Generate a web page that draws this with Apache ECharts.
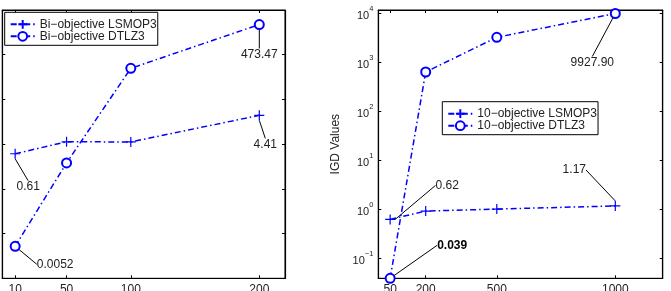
<!DOCTYPE html>
<html>
<head>
<meta charset="utf-8">
<title>IGD values vs. number of decision variables</title>
<script src="https://cdn.jsdelivr.net/npm/echarts@6/dist/echarts.min.js"></script>
<style>
    html, body { margin: 0; padding: 0; background: #fff; }
    #chart { width: 671px; height: 291px; }
</style>
</head>
<body>
<div id="chart"></div>
<script>
// left panel: bi-objective problems
var biSizes = [10, 50, 100, 200];
var biLsmop3 = [0.61, 1.13, 1.12, 4.41];
var biDtlz3 = [0.0052, 0.38, 49.6, 473.47];
var biLsmop3Notes = ['0.61', '', '', '4.41'];
var biDtlz3Notes = ['0.0052', '', '', '473.47'];

// right panel: 10-objective problems
var manySizes = [50, 200, 500, 1000];
var manyLsmop3 = [0.62, 0.92, 1.01, 1.17];
var manyDtlz3 = [0.039, 635, 3240, 9927.90];
var manyLsmop3Notes = ['0.62', '', '', '1.17'];
var manyDtlz3Notes = ['0.039', '', '', '9927.90'];

var seriesNames = [
    'Bi\u2212objective LSMOP3',
    'Bi\u2212objective DTLZ3',
    '10\u2212objective LSMOP3',
    '10\u2212objective DTLZ3'
];

var FONT = 'Liberation Sans, Arial, Helvetica, sans-serif';
var TEXT = '#222';
var BLUE = '#0000ff';
var PLUS = 'path://M5,0L5,10M0,5L10,5';

// where each value note sits, relative to its point (series, point)
var NOTE_SHIFT = [
    [[13, 33], null, null, [6, 29]],
    [[40, 18], null, null, [0, 30]],
    [[57, -34], null, null, [-41, -36]],
    [[62, -33], null, null, [-23, 49]]
];

/**
 * bottom / top x axis of one panel, ticks pointing in
 */
function makeXAxis(gridIndex, position, min, max, ticks) {
    return {
        type: 'value',
        gridIndex: gridIndex,
        position: position,
        min: min,
        max: max,
        axisLine: { show: true, onZero: false, lineStyle: { color: '#000', width: 1.2 } },
        axisTick: { show: true, inside: true, length: 3, customValues: ticks, lineStyle: { color: '#000' } },
        axisLabel: {
            show: position === 'bottom',
            customValues: ticks,
            formatter: function (v) {
                return String(v);
            },
            margin: 5,
            fontSize: 12,
            color: TEXT,
            fontFamily: FONT
        },
        splitLine: { show: false }
    };
}

/**
 * 10^n tick text with a raised exponent
 */
function powerLabel(value) {
    var e = Math.round(Math.log(value) / Math.LN10);
    var exp = e < 0 ? '\u2212' + (-e) : '' + e;
    return '{b|10}{s|' + exp + '}';
}

function makeYAxis(gridIndex, position, min, max, withLabels, name) {
    var axis = {
        type: 'log',
        logBase: 10,
        gridIndex: gridIndex,
        position: position,
        min: min,
        max: max,
        axisLine: { show: true, onZero: false, lineStyle: { color: '#000', width: 1.2 } },
        axisTick: { show: true, inside: true, length: 3, lineStyle: { color: '#000' } },
        minorTick: { show: false },
        splitLine: { show: false },
        axisLabel: {
            show: withLabels,
            showMinLabel: false,
            showMaxLabel: false,
            margin: 5,
            formatter: powerLabel,
            color: TEXT,
            fontFamily: FONT,
            rich: {
                b: { fontSize: 11, lineHeight: 16, verticalAlign: 'bottom', color: TEXT, fontFamily: FONT },
                s: { fontSize: 7.5, lineHeight: 8, verticalAlign: 'top', color: TEXT, fontFamily: FONT }
            }
        }
    };
    if (name) {
        axis.name = name;
        axis.nameLocation = 'middle';
        axis.nameGap = 37;
        axis.nameTextStyle = { fontSize: 12, color: TEXT, fontFamily: FONT };
    }
    return axis;
}

function makeSeries(index, xs, ys, notes, symbol, panel) {
    var data = [];
    for (var i = 0; i < xs.length; i++) {
        var item = { value: [xs[i], ys[i]] };
        if (notes[i]) {
            item.label = { show: true, formatter: notes[i] };
            if (notes[i] === '0.039') {
                item.label.fontWeight = 'bold';
                item.label.color = '#000';
            }
        }
        data.push(item);
    }
    return {
        name: seriesNames[index],
        type: 'line',
        xAxisIndex: panel * 2,
        yAxisIndex: panel * 2,
        data: data,
        clip: false,
        symbol: symbol,
        symbolSize: symbol === PLUS ? 10 : 9,
        color: BLUE,
        lineStyle: { color: BLUE, width: 1.5, type: [6, 3, 1.5, 3] },
        itemStyle: { color: BLUE, borderColor: BLUE, borderWidth: 1.2 },
        label: { show: false, position: 'inside', fontSize: 12, color: TEXT, fontFamily: FONT },
        labelLine: { show: true, lineStyle: { color: '#000', width: 1 } },
        labelLayout: function (params) {
            var shift = NOTE_SHIFT[params.seriesIndex][params.dataIndex];
            return shift ? { dx: shift[0], dy: shift[1] } : {};
        },
        emphasis: { disabled: true }
    };
}

function makeLegend(names, left, top) {
    return {
        data: names,
        orient: 'vertical',
        left: left,
        top: top,
        selectedMode: false,
        backgroundColor: '#fff',
        borderColor: '#000',
        borderWidth: 1,
        padding: [6, 1, 3, 5],
        itemGap: 0,
        itemWidth: 24,
        itemHeight: 11,
        textStyle: { fontSize: 12, color: TEXT, fontFamily: FONT }
    };
}

var chart = echarts.init(document.getElementById('chart'), null, { renderer: 'canvas' });

var option = {
    animation: false,
    backgroundColor: '#fff',
    grid: [
        {
            left: 2.3, top: 10, width: 282.7, height: 268.3,
            outerBoundsMode: 'none',
            show: true, borderColor: '#000', borderWidth: 1
        },
        {
            left: 378.3, top: 10, width: 284.4, height: 268.3,
            outerBoundsMode: 'none',
            show: true, borderColor: '#000', borderWidth: 1
        }
    ],
    xAxis: [
        makeXAxis(0, 'bottom', 0, 220, biSizes),
        makeXAxis(0, 'top', 0, 220, biSizes),
        makeXAxis(1, 'bottom', 0, 1200, manySizes),
        makeXAxis(1, 'top', 0, 1200, manySizes)
    ],
    yAxis: [
        makeYAxis(0, 'left', 0.001, 1000, false),
        makeYAxis(0, 'right', 0.001, 1000, false),
        makeYAxis(1, 'left', 0.039, 11700, true, 'IGD Values'),
        makeYAxis(1, 'right', 0.039, 11700, false)
    ],
    legend: [
        makeLegend([seriesNames[0], seriesNames[1]], 4.7, 12.3),
        makeLegend([seriesNames[2], seriesNames[3]], 442.3, 101.7)
    ],
    series: [
        makeSeries(0, biSizes, biLsmop3, biLsmop3Notes, PLUS, 0),
        makeSeries(1, biSizes, biDtlz3, biDtlz3Notes, 'emptyCircle', 0),
        makeSeries(2, manySizes, manyLsmop3, manyLsmop3Notes, PLUS, 1),
        makeSeries(3, manySizes, manyDtlz3, manyDtlz3Notes, 'emptyCircle', 1)
    ]
};

chart.setOption(option);
</script>
</body>
</html>
